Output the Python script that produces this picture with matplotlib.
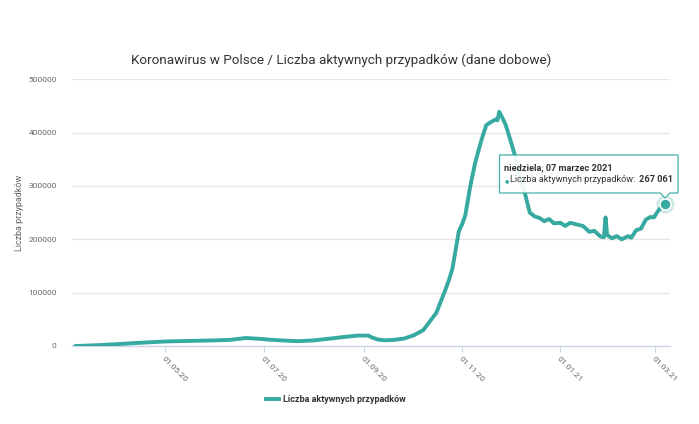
import numpy as np
import pandas as pd
import matplotlib
matplotlib.use("Agg")
import matplotlib.pyplot as plt
import matplotlib.dates as mdates
from matplotlib.patches import Polygon
from matplotlib.lines import Line2D

plt.rcParams['font.family'] = ['Roboto', 'DejaVu Sans']

# active cases
dates = ['2020-03-06', '2020-03-20', '2020-04-01', '2020-04-15', '2020-05-01',
         '2020-05-15', '2020-06-01', '2020-06-10', '2020-06-20', '2020-06-28',
         '2020-07-04', '2020-07-12', '2020-07-22', '2020-08-01', '2020-08-10',
         '2020-08-20', '2020-08-28', '2020-09-04', '2020-09-06', '2020-09-10',
         '2020-09-14', '2020-09-20', '2020-09-26', '2020-10-02', '2020-10-08',
         '2020-10-13', '2020-10-16', '2020-10-19', '2020-10-22', '2020-10-24',
         '2020-10-26', '2020-10-28', '2020-10-30', '2020-11-01', '2020-11-03',
         '2020-11-06', '2020-11-09', '2020-11-13', '2020-11-16', '2020-11-19',
         '2020-11-22', '2020-11-23', '2020-11-24', '2020-11-26', '2020-11-28',
         '2020-12-01', '2020-12-04', '2020-12-07', '2020-12-10', '2020-12-13',
         '2020-12-16', '2020-12-19', '2020-12-22', '2020-12-25', '2020-12-28',
         '2021-01-01', '2021-01-04', '2021-01-07', '2021-01-11', '2021-01-15',
         '2021-01-19', '2021-01-22', '2021-01-26', '2021-01-28', '2021-01-29',
         '2021-01-30', '2021-02-02', '2021-02-05', '2021-02-08', '2021-02-12',
         '2021-02-14', '2021-02-17', '2021-02-20', '2021-02-23', '2021-02-26',
         '2021-02-28', '2021-03-03', '2021-03-07']
active = [0, 1500, 3500, 6000, 8500,
          9500, 10500, 11500, 15000, 13500,
          12000, 10500, 9000, 10500, 13500,
          17000, 19500, 19500, 16000, 12000,
          10700, 11500, 14000, 20000, 30000,
          50000, 62000, 85000, 108000, 125000,
          145000, 180000, 215000, 228000, 245000,
          298000, 342000, 386000, 414000, 420000,
          425000, 423000, 439000, 428000, 415000,
          386000, 355000, 317000, 286000, 250000,
          243000, 240000, 234000, 238000, 230000,
          231000, 225000, 231000, 228000, 225000,
          214000, 216000, 205000, 204000, 241000,
          208000, 202000, 206000, 200000, 206000,
          203000, 217000, 220000, 237000, 242000,
          241000, 255000, 267061]

tick_dates = ['2020-05-01', '2020-07-01', '2020-09-01', '2020-11-01', '2021-01-01', '2021-03-01']
tick_labels = ['01.05.20', '01.07.20', '01.09.20', '01.11.20', '01.01.21', '01.03.21']
y_ticks = [0, 100000, 200000, 300000, 400000, 500000]

teal = '#36a9a1'
W, H = 699, 424

x = pd.to_datetime(dates)

fig = plt.figure(figsize=(W / 100, H / 100), dpi=100)
ax = fig.add_axes([72 / W, 1 - 346 / H, (670 - 72) / W, (346 - 79.3) / H])

ax.plot(x, active, color=teal, lw=2.8, solid_joinstyle='round', solid_capstyle='round', zorder=3)
# hovered point
ax.plot(x[-1], active[-1], 'o', ms=13, color=teal, alpha=0.25, mew=0, zorder=4, clip_on=False)
ax.plot(x[-1], active[-1], 'o', ms=8, color=teal, mec='white', mew=1.2, zorder=5, clip_on=False)

ax.set_xlim(pd.Timestamp('2020-03-04'), pd.Timestamp('2021-03-10'))
ax.set_ylim(0, 500000)
ax.set_yticks(y_ticks)
ax.set_yticklabels([str(v) for v in y_ticks])
ax.set_xticks(pd.to_datetime(tick_dates))
ax.set_xticklabels(tick_labels, rotation=-45, ha='left', va='top', rotation_mode='anchor')

ax.grid(axis='y', color='#e6e6e6', lw=1)
ax.set_axisbelow(True)
for s in ['top', 'right', 'left']:
    ax.spines[s].set_visible(False)
ax.spines['bottom'].set_color('#ccd6eb')
ax.spines['bottom'].set_linewidth(1)
ax.tick_params(axis='y', length=0, pad=11, labelsize=6, labelcolor='#666666')
ax.tick_params(axis='x', length=4, width=0.8, color='#ccd6eb', pad=3, labelsize=6, labelcolor='#666666')
ax.set_ylabel('Liczba przypadków', fontsize=6.5, color='#666666', labelpad=3)

fig.text(341.5 / W, 1 - 60 / H, 'Koronawirus w Polsce / Liczba aktywnych przypadków (dane dobowe)',
         ha='center', va='center', fontsize=9.7, color='#333333')

# legend
handle = Line2D([], [], color=teal, lw=2.8)
leg = fig.legend([handle], ['Liczba aktywnych przypadków'], loc='center',
                 bbox_to_anchor=(336 / W, 1 - 400 / H), frameon=False,
                 handlelength=1.4, handletextpad=0.5, prop={'size': 6.5, 'weight': 'bold'})
for t in leg.get_texts():
    t.set_color('#333333')

# tooltip
def fpt(px, py):
    return (px / W, 1 - py / H)

box = [fpt(499.5, 155), fpt(678, 155), fpt(678, 193), fpt(670, 193), fpt(665, 198),
       fpt(660, 193), fpt(499.5, 193)]
fig.patches.append(Polygon(box, closed=True, transform=fig.transFigure,
                           facecolor='white', edgecolor=teal, lw=0.9, alpha=0.92, zorder=10))
fig.text(*fpt(504.5, 168), 'niedziela, 07 marzec 2021', fontsize=6.6, weight='bold',
         color='#333333', va='center', zorder=11)
fig.text(*fpt(504.5, 180.5), '\u25cf', fontsize=3.5, color=teal, va='center', zorder=11)
fig.text(*fpt(510.5, 180), 'Liczba aktywnych przypadków: ', fontsize=6.6,
         color='#333333', va='center', zorder=11)
fig.text(*fpt(639, 180), '267 061', fontsize=6.6, weight='bold',
         color='#333333', va='center', zorder=11)

fig.savefig('out.png', dpi=100)
